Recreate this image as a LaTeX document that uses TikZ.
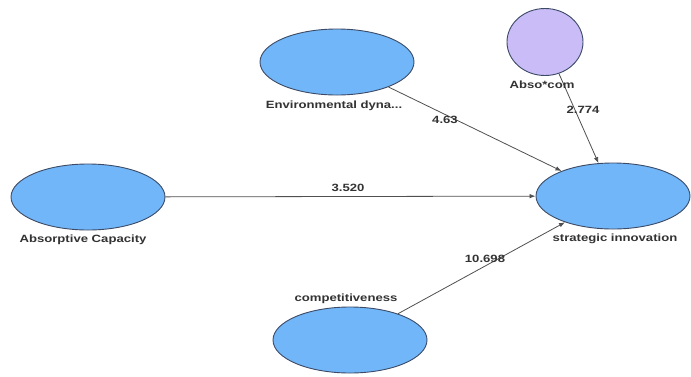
\documentclass[tikz,border=0pt]{standalone}
\usepackage{fontspec}
\setmainfont{Liberation Sans}
\usetikzlibrary{shapes.geometric,arrows.meta}
\definecolor{lvblue}{HTML}{70B6F8}
\definecolor{lvlilac}{HTML}{C9BCF7}
\definecolor{lvedge}{HTML}{3C4A66}
\definecolor{lvtext}{HTML}{333333}
\definecolor{lvline}{HTML}{505050}
\newcommand{\lbl}[1]{\scalebox{1.25}[1]{\fontsize{10.5}{12}\selectfont\bfseries #1}}
\tikzset{
  latent/.style={ellipse, draw=lvedge, line width=0.9pt, fill=lvblue, inner sep=0pt,
    minimum width=154pt, minimum height=66pt},
  moder/.style={ellipse, draw=lvedge, line width=0.9pt, fill=lvlilac, inner sep=0pt,
    minimum width=76pt, minimum height=67pt},
  caption/.style={text=lvtext, inner sep=0pt, anchor=center},
  path/.style={draw=lvline, line width=0.8pt, -{Latex[length=6pt,width=4.5pt]}}
}
\begin{document}
\begin{tikzpicture}[x=1pt,y=-1pt]
\useasboundingbox (0,0) rectangle (691,376);
\fill[white] (0,0) rectangle (691,376);
% nodes
\node[latent] (env) at (337,62) {};
\node[moder] (mod) at (545,42) {};
\node[latent] (si) at (613,196) {};
\node[latent] (ac) at (88,197) {};
\node[latent] (comp) at (350,340) {};
% connectors
\draw[path] (env) -- (si);
\draw[path] (mod) -- (si);
\draw[path] (ac) -- (si);
\draw[path] (comp) -- (si);
% node captions
\node[caption] (envl) at (334,106) {\lbl{Environmental dyna...}};
\node[caption] (modl) at (542,85) {\lbl{Abso*com}};
\node[caption] (sil) at (615,239) {\lbl{strategic innovation}};
\node[caption] (acl) at (83,240) {\lbl{Absorptive Capacity}};
\node[caption] (compl) at (346,299) {\lbl{competitiveness}};
% path coefficients
\node[caption] (e1) at (445,120) {\lbl{4.63}};
\node[caption] (e2) at (583,110) {\lbl{2.774}};
\node[caption] (e3) at (348,188) {\lbl{3.520}};
\node[caption] (e4) at (485,259) {\lbl{10.698}};
\end{tikzpicture}
\end{document}
